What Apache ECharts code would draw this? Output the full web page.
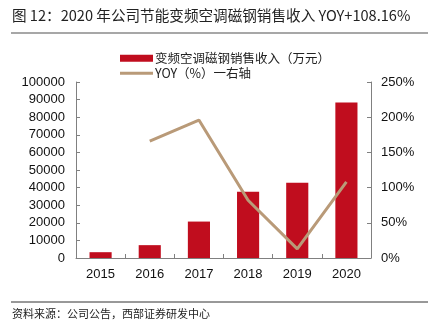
<!DOCTYPE html>
<html><head><meta charset="utf-8">
<script src="https://cdn.jsdelivr.net/npm/echarts@6/dist/echarts.min.js"></script>
<style>html,body{margin:0;padding:0;background:#fff}#c{width:428px;height:331px}</style>
</head><body><div id="c"></div>
<script>
const categories = ['2015','2016','2017','2018','2019','2020'];
const revenue = [3300, 7300, 20700, 37700, 42800, 88300];
const yoy = [null, 1.66, 1.96, 0.82, 0.13, 1.0816];
const leftTicks = [0, 100000, 10000];
const rightTicks = [0, 2.5, 0.5];
const barName = '变频空调磁钢销售收入（万元）';
const lineName = 'YOY（%）一右轴';
const titleText = '图 12：2020 年公司节能变频空调磁钢销售收入 YOY+108.16%';
const sourceText = '资料来源：公司公告，西部证券研发中心';

const FONT = '"Noto Sans CJK SC", "Liberation Sans", sans-serif';
const chart = echarts.init(document.getElementById('c'));
chart.setOption({
  animation: false,
  textStyle: {fontFamily: FONT},
  graphic: [
    {type:'text', left: 12, top: 8, style:{text: titleText, font: '14.6px ' + FONT, fill:'#222'}},
    {type:'line', shape:{x1:11,y1:33,x2:428,y2:33}, style:{stroke:'#8a8a8a', lineWidth:1.5}},
    {type:'line', shape:{x1:11,y1:302,x2:428,y2:302}, style:{stroke:'#333', lineWidth:1}},
    {type:'text', left: 12, top: 308, style:{text: sourceText, font: '11px ' + FONT, fill:'#222'}}
  ],
  legend: [
    {data:[barName], left: 115, top: 47, icon:'rect', itemWidth:33, itemHeight:7, itemGap:0,
     textStyle:{fontSize:12.5, color:'#222', fontFamily: FONT, padding:[0,0,0,-3]}},
    {data:[lineName], left: 115, top: 62, icon:'rect', itemWidth:33, itemHeight:3, itemGap:0,
     textStyle:{fontSize:12.5, color:'#222', fontFamily: FONT, padding:[0,0,0,-3]}}
  ],
  grid: {left: 76, right: 57, top: 82, bottom: 73, containLabel: false},
  xAxis: {
    type:'category', data: categories,
    axisLine:{lineStyle:{color:'#808080'}},
    axisTick:{show:true, inside:true, length:4, lineStyle:{color:'#808080'}},
    axisLabel:{fontSize:13, color:'#111', margin:10, fontFamily:'"Liberation Sans", Arial, sans-serif'}
  },
  yAxis: [
    {type:'value', min:leftTicks[0], max:leftTicks[1], interval:leftTicks[2],
     axisLine:{show:true, lineStyle:{color:'#808080'}},
     axisTick:{show:true, inside:true, length:4, lineStyle:{color:'#808080'}},
     splitLine:{show:false},
     axisLabel:{fontSize:13, color:'#111', margin:11, fontFamily:'"Liberation Sans", Arial, sans-serif',
       formatter: v => String(v)}},
    {type:'value', min:rightTicks[0], max:rightTicks[1], interval:rightTicks[2], position:'right',
     axisLine:{show:true, lineStyle:{color:'#808080'}},
     axisTick:{show:true, inside:true, length:4, lineStyle:{color:'#808080'}},
     splitLine:{show:false},
     axisLabel:{fontSize:13, color:'#111', margin:10, fontFamily:'"Liberation Sans", Arial, sans-serif',
       formatter: v => Math.round(v*100) + '%'}}
  ],
  series: [
    {name: barName, type:'bar', data: revenue, barWidth:'45%', itemStyle:{color:'#C00D1E'}},
    {name: lineName, type:'line', yAxisIndex:1, data: yoy, symbol:'none', connectNulls:false,
     lineStyle:{color:'#B99A78', width:3}, itemStyle:{color:'#B99A78'}}
  ]
});
</script></body></html>
